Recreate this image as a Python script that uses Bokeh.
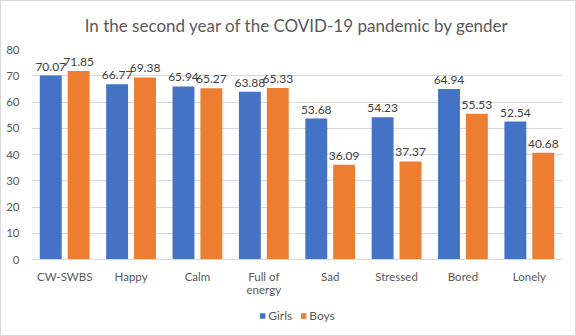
from bokeh.plotting import figure
from bokeh.models import ColumnDataSource, Legend, LegendItem, Title
from bokeh.layouts import column
from bokeh.transform import dodge
from bokeh.embed import file_html
from bokeh.resources import INLINE

categories = ["CW-SWBS", "Happy", "Calm", "Full of\nenergy", "Sad", "Stressed", "Bored", "Lonely"]
girls = [70.07, 66.77, 65.94, 63.88, 53.68, 54.23, 64.94, 52.54]
boys = [71.85, 69.38, 65.27, 65.33, 36.09, 37.37, 55.53, 40.68]
series_names = ["Girls", "Boys"]
y_ticks = [0, 10, 20, 30, 40, 50, 60, 70, 80]

FONT = "Lato"
TXT = "#595959"
BLUE = "#4472C4"
ORANGE = "#ED7D31"

source = ColumnDataSource(dict(
    cat=categories,
    girls=girls,
    boys=boys,
    girls_lbl=[f"{v:.2f}" for v in girls],
    boys_lbl=[f"{v:.2f}" for v in boys],
))

p = figure(x_range=categories, y_range=(0, 80), frame_width=531, frame_height=210,
           output_backend="svg", toolbar_location=None,
           min_border_left=30, min_border_right=13, min_border_top=48, min_border_bottom=47)

p.add_layout(Title(text="In the second year of the COVID-19 pandemic by gender", align="center",
                   text_font=FONT, text_font_size="17px", text_font_style="normal",
                   text_color=TXT, standoff=24, vertical_align="top"), "above")

r1 = p.vbar(x=dodge("cat", -0.21, range=p.x_range), top="girls", width=0.33, source=source,
            fill_color=BLUE, line_color=None)
r2 = p.vbar(x=dodge("cat", 0.21, range=p.x_range), top="boys", width=0.33, source=source,
            fill_color=ORANGE, line_color=None)

p.text(x=dodge("cat", -0.21, range=p.x_range), y="girls", text="girls_lbl", source=source,
       text_align="center", text_baseline="bottom", y_offset=-5,
       text_font_size="12px", text_color="#404040", text_font={"value": FONT})
p.text(x=dodge("cat", 0.21, range=p.x_range), y="boys", text="boys_lbl", source=source,
       text_align="center", text_baseline="bottom", y_offset=-5,
       text_font_size="12px", text_color="#404040", text_font={"value": FONT})

p.outline_line_color = None
p.xgrid.grid_line_color = None
p.ygrid.grid_line_color = "#d9d9d9"
p.ygrid.ticker = y_ticks
p.yaxis.ticker = y_ticks
p.yaxis.axis_line_color = None
p.yaxis.major_tick_line_color = None
p.yaxis.minor_tick_line_color = None
p.yaxis.major_label_standoff = 6
p.xaxis.axis_line_color = "#d9d9d9"
p.xaxis.major_tick_line_color = None
p.xaxis.minor_tick_line_color = None
p.xaxis.major_label_standoff = 4
p.xaxis.major_label_text_line_height = 1.0
for ax in (p.xaxis, p.yaxis):
    ax.major_label_text_font = FONT
    ax.major_label_text_font_size = "11.5px"
    ax.major_label_text_color = TXT
p.x_range.range_padding = 0.0

# Legend strip below the chart (swatch renderers have zero-size bars)
q = figure(width=574, height=29, output_backend="svg", toolbar_location=None,
           x_axis_location=None, y_axis_location=None, min_border=0)
q.outline_line_color = None
q.xgrid.visible = False
q.ygrid.visible = False
k1 = q.vbar(x=[0], top=[0], bottom=[0], width=0, fill_color=BLUE, line_color=None)
k2 = q.vbar(x=[0], top=[0], bottom=[0], width=0, fill_color=ORANGE, line_color=None)
legend = Legend(items=[LegendItem(label=series_names[0], renderers=[k1]),
                       LegendItem(label=series_names[1], renderers=[k2])],
                orientation="horizontal", location="top_center",
                glyph_width=7, glyph_height=7, label_standoff=3, spacing=7,
                label_text_font=FONT, label_text_font_size="12px", label_text_color=TXT,
                label_height=12, border_line_color=None, background_fill_alpha=0,
                padding=2, margin=2)
q.add_layout(legend, "center")

layout = column(p, q, spacing=0, styles={"border": "1px solid #d9d9d9"})

open("out.html", "w").write(file_html(layout, INLINE))
